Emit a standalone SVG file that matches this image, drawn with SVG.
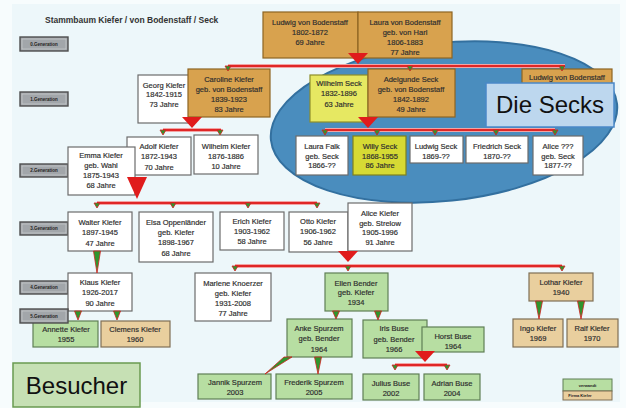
<svg xmlns="http://www.w3.org/2000/svg" xmlns:xlink="http://www.w3.org/1999/xlink" width="626" height="408" viewBox="0 0 626 408">
<style>
.t{font-family:"Liberation Sans",Arial,sans-serif;font-size:7.5px;fill:#2e2e2e;stroke:#2e2e2e;stroke-width:0.18;text-anchor:middle}
.g{font-family:"Liberation Sans",Arial,sans-serif;font-size:4.5px;font-weight:bold;fill:#222;text-anchor:middle}
.big{font-family:"Liberation Sans",Arial,sans-serif;font-size:24px;fill:#111;text-anchor:middle}
.title{font-family:"Liberation Sans",Arial,sans-serif;font-size:8.5px;font-weight:bold;fill:#333}
.w{fill:#fff;stroke:#6c6c6c;stroke-width:1.2}
.o{fill:#d8a24e;stroke:#8e6422;stroke-width:1.2}
.y{fill:#e6e862;stroke:#8e8e2a;stroke-width:1.2}
.yy{fill:#d6da34;stroke:#7e8020;stroke-width:1.2}
.gr{fill:#b7dea2;stroke:#5f7f55;stroke-width:1.2}
.tan{fill:#e9cf9e;stroke:#7f6f55;stroke-width:1.2}
.gen{fill:#a2a6aa;stroke:#4e4e4e;stroke-width:1.4}
.genin{fill:none;stroke:#d0d2d4;stroke-width:0.6}
.halo{stroke:#f2a4a4;stroke-width:4;fill:none}
.red{stroke:#e02626;stroke-width:2;fill:none}
.rt{fill:#e01c1c}
.gm{fill:#2e962e;stroke:#d42020;stroke-width:0.8}
</style>
<defs>
<path id="gm" class="gm" d="M-3,0 L3,0 L0,5 Z"/>
<path id="rt" class="rt" d="M-10,0 L10,0 L0,11 Z"/>
</defs>
<rect width="626" height="408" fill="#f7fcfd"/>
<rect x="12" y="4" width="608" height="398" fill="#edf7fa"/>
<text class="title" x="45" y="23">Stammbaum Kiefer / von Bodenstaff / Seck</text>
<g id="generations">
<rect class="gen" x="20" y="37" width="48" height="14"/><rect class="genin" x="22" y="39" width="44" height="10"/><text class="g" x="44" y="45.6">0.Generation</text>
<rect class="gen" x="20" y="92" width="48" height="14"/><rect class="genin" x="22" y="94" width="44" height="10"/><text class="g" x="44" y="100.6">1.Generation</text>
<rect class="gen" x="20" y="164" width="48" height="13"/><rect class="genin" x="22" y="166" width="44" height="9"/><text class="g" x="44" y="172.1">2.Generation</text>
<rect class="gen" x="20" y="222" width="48" height="13"/><rect class="genin" x="22" y="224" width="44" height="9"/><text class="g" x="44" y="230.1">3.Generation</text>
<rect class="gen" x="20" y="281" width="48" height="13"/><rect class="genin" x="22" y="283" width="44" height="9"/><text class="g" x="44" y="289.1">4.Generation</text>
</g>
<ellipse id="secks-area" cx="444" cy="122" rx="174" ry="79" transform="rotate(-6 444 122)" fill="#4a8dbe" stroke="#33709f" stroke-width="2"/>
<g id="n-ludwig0"><rect class="o" x="263" y="12" width="95" height="46"/><text class="t" x="310" y="24.5">Ludwig von Bodenstaff<tspan x="310" dy="10">1802-1872</tspan><tspan x="310" dy="10">69 Jahre</tspan></text></g>
<g id="n-laura0"><rect class="o" x="358" y="12" width="94" height="46"/><text class="t" x="405" y="24.5">Laura von Bodenstaff<tspan x="405" dy="10">geb. von Harl</tspan><tspan x="405" dy="10">1806-1883</tspan><tspan x="405" dy="10">77 Jahre</tspan></text></g>
<g id="n-georg"><rect class="w" x="138" y="75" width="55" height="48"/><text class="t" x="164" y="87.5">Georg Kiefer<tspan x="164" dy="9.8">1842-1915</tspan><tspan x="164" dy="9.8">73 Jahre</tspan></text></g>
<g id="n-caroline"><rect class="o" x="188" y="69" width="82" height="48"/><text class="t" x="229" y="81.5">Caroline Kiefer<tspan x="229" dy="10">geb. von Bodenstaff</tspan><tspan x="229" dy="10">1839-1923</tspan><tspan x="229" dy="10">83 Jahre</tspan></text></g>
<g id="n-wilhelm-seck"><rect class="y" x="310" y="75" width="58" height="47"/><text class="t" x="339" y="85.5">Wilhelm Seck<tspan x="339" dy="10.5">1832-1896</tspan><tspan x="339" dy="10.5">63 Jahre</tspan></text></g>
<g id="n-adelgunde"><rect class="o" x="368" y="69" width="87" height="48"/><text class="t" x="411" y="81.5">Adelgunde Seck<tspan x="411" dy="10">geb. von Bodenstaff</tspan><tspan x="411" dy="10">1842-1892</tspan><tspan x="411" dy="10">49 Jahre</tspan></text></g>
<g id="n-ludwig-r"><rect class="o" x="522" y="69" width="90" height="15"/><text class="t" x="567" y="80">Ludwig von Bodenstaff</text></g>
<g id="n-die-secks"><rect x="486" y="83" width="128" height="44" fill="#bdd7ee" stroke="#4a88c8" stroke-width="1.5"/><text class="big" x="550" y="113">Die Secks</text></g>
<g id="n-laura-falk"><rect class="w" x="296" y="136" width="52" height="39"/><text class="t" x="322" y="149.4">Laura Falk<tspan x="322" dy="9.3">geb. Seck</tspan><tspan x="322" dy="9.3">1866-??</tspan></text></g>
<g id="n-willy"><rect class="yy" x="353" y="136" width="53" height="39"/><text class="t" x="380" y="149.4">Willy Seck<tspan x="380" dy="9.3">1868-1955</tspan><tspan x="380" dy="9.3">86 Jahre</tspan></text></g>
<g id="n-ludwig-seck"><rect class="w" x="410" y="136" width="53" height="27"/><text class="t" x="436" y="149">Ludwig Seck<tspan x="436" dy="9.5">1869-??</tspan></text></g>
<g id="n-friedrich"><rect class="w" x="466" y="136" width="62" height="27"/><text class="t" x="497" y="149">Friedrich Seck<tspan x="497" dy="9.5">1870-??</tspan></text></g>
<g id="n-alice-seck"><rect class="w" x="533" y="136" width="50" height="39"/><text class="t" x="558" y="149.4">Alice ???<tspan x="558" dy="9.3">geb. Seck</tspan><tspan x="558" dy="9.3">1877-??</tspan></text></g>
<g id="n-adolf"><rect class="w" x="127" y="137" width="64" height="38"/><text class="t" x="159" y="148.7">Adolf Kiefer<tspan x="159" dy="10.5">1872-1943</tspan><tspan x="159" dy="10.5">70 Jahre</tspan></text></g>
<g id="n-emma"><rect class="w" x="68" y="147" width="67" height="48"/><text class="t" x="101" y="157.7">Emma Kiefer<tspan x="101" dy="10.2">geb. Wahl</tspan><tspan x="101" dy="10.2">1875-1943</tspan><tspan x="101" dy="10.2">68 Jahre</tspan></text></g>
<g id="n-wilhelm-kiefer"><rect class="w" x="194" y="135" width="64" height="39"/><text class="t" x="226" y="148.7">Wilhelm Kiefer<tspan x="226" dy="10">1876-1886</tspan><tspan x="226" dy="10">10 Jahre</tspan></text></g>
<g id="n-walter"><rect class="w" x="68" y="212" width="64" height="39"/><text class="t" x="100" y="224.7">Walter Kiefer<tspan x="100" dy="10.5">1897-1945</tspan><tspan x="100" dy="10.5">47 Jahre</tspan></text></g>
<g id="n-elsa"><rect class="w" x="139" y="212" width="74" height="50"/><text class="t" x="176" y="224.7">Elsa Oppenländer<tspan x="176" dy="10.3">geb. Kiefer</tspan><tspan x="176" dy="10.3">1898-1967</tspan><tspan x="176" dy="10.3">68 Jahre</tspan></text></g>
<g id="n-erich"><rect class="w" x="220" y="212" width="64" height="38"/><text class="t" x="252" y="223.7">Erich Kiefer<tspan x="252" dy="10">1903-1962</tspan><tspan x="252" dy="10">58 Jahre</tspan></text></g>
<g id="n-otto"><rect class="w" x="289" y="212" width="59" height="40"/><text class="t" x="318" y="223.7">Otto Kiefer<tspan x="318" dy="10.5">1906-1962</tspan><tspan x="318" dy="10.5">56 Jahre</tspan></text></g>
<g id="n-alice-kiefer"><rect class="w" x="348" y="203" width="64" height="48"/><text class="t" x="380" y="215.7">Alice Kiefer<tspan x="380" dy="9.8">geb. Strelow</tspan><tspan x="380" dy="9.8">1905-1996</tspan><tspan x="380" dy="9.8">91 Jahre</tspan></text></g>
<g id="n-klaus"><rect class="w" x="68" y="273" width="64" height="38"/><text class="t" x="100" y="284.7">Klaus Kiefer<tspan x="100" dy="10.5">1926-2017</tspan><tspan x="100" dy="10.5">90 Jahre</tspan></text></g>
<g id="n-marlene"><rect class="w" x="195" y="273" width="76" height="48"/><text class="t" x="233" y="285.7">Marlene Knoerzer<tspan x="233" dy="10">geb. Kiefer</tspan><tspan x="233" dy="10">1931-2008</tspan><tspan x="233" dy="10">77 Jahre</tspan></text></g>
<g id="n-ellen"><rect class="gr" x="325" y="273" width="63" height="38"/><text class="t" x="356" y="285.7">Ellen Bender<tspan x="356" dy="9.6">geb. Kiefer</tspan><tspan x="356" dy="9.6">1934</tspan></text></g>
<g id="n-lothar"><rect class="tan" x="529" y="273" width="64" height="28"/><text class="t" x="561" y="284.7">Lothar Kiefer<tspan x="561" dy="10">1940</tspan></text></g>
<g id="n-annette"><rect class="gr" x="33" y="321" width="65" height="26"/><text class="t" x="66" y="331.7">Annette Kiefer<tspan x="66" dy="10.5">1955</tspan></text></g>
<g id="generation5"><rect class="gen" x="20" y="309" width="48" height="14"/><rect class="genin" x="22" y="311" width="44" height="10"/><text class="g" x="44" y="317.6">5.Generation</text></g>
<g id="n-clemens"><rect class="tan" x="101" y="321" width="69" height="26"/><text class="t" x="135" y="331.7">Clemens Kiefer<tspan x="135" dy="10.5">1960</tspan></text></g>
<g id="n-anke"><rect class="gr" x="287" y="319" width="65" height="38"/><text class="t" x="319" y="330.7">Anke Spurzem<tspan x="319" dy="10.5">geb. Bender</tspan><tspan x="319" dy="10.5">1964</tspan></text></g>
<g id="n-iris"><rect class="gr" x="363" y="320" width="64" height="38"/><text class="t" x="394" y="330.7">Iris Buse<tspan x="394" dy="11">geb. Bender</tspan><tspan x="394" dy="10.5">1966</tspan></text></g>
<g id="n-horst"><rect class="gr" x="422" y="327" width="62" height="25"/><text class="t" x="453" y="338.7">Horst Buse<tspan x="453" dy="10">1964</tspan></text></g>
<g id="n-ingo"><rect class="tan" x="513" y="319" width="50" height="28"/><text class="t" x="538" y="330.7">Ingo Kiefer<tspan x="538" dy="10">1969</tspan></text></g>
<g id="n-ralf"><rect class="tan" x="567" y="319" width="51" height="28"/><text class="t" x="592" y="330.7">Ralf Kiefer<tspan x="592" dy="10">1970</tspan></text></g>
<g id="n-jannik"><rect class="gr" x="198" y="374" width="73" height="25"/><text class="t" x="235" y="384.7">Jannik Spurzem<tspan x="235" dy="10.5">2003</tspan></text></g>
<g id="n-frederik"><rect class="gr" x="276" y="374" width="76" height="25"/><text class="t" x="314" y="384.7">Frederik Spurzem<tspan x="314" dy="10.5">2005</tspan></text></g>
<g id="n-julius"><rect class="gr" x="363" y="374" width="56" height="26"/><text class="t" x="391" y="385.7">Julius Buse<tspan x="391" dy="10">2002</tspan></text></g>
<g id="n-adrian"><rect class="gr" x="424" y="374" width="56" height="26"/><text class="t" x="452" y="385.7">Adrian Buse<tspan x="452" dy="10">2004</tspan></text></g>
<g id="n-besucher"><rect x="13" y="363" width="127" height="44" fill="#c6e0b4" stroke="#6a9a50" stroke-width="1.5"/><text class="big" x="76.5" y="393.5">Besucher</text></g>
<g id="legend"><rect x="563" y="379" width="49" height="12" fill="#b7dea2" stroke="#5f7f55" stroke-width="1"/><rect x="563" y="391" width="49" height="9" fill="#e9cf9e" stroke="#7f6f55" stroke-width="1"/><text class="g" x="587.5" y="386.5" style="font-size:4px">verwandt</text><text class="g" x="580" y="397.3" style="font-size:4px">Firma Kiefer</text></g>
<g id="connectors">
<path class="halo" d="M228,66 H565 M163,130 H221 M325,130 H555 M97,203 H317 M235,266 H562 M395,365 H447"/>
<path class="red" d="M228,66 H565 M163,130 H221 M325,130 H555 M97,203 H317 M235,266 H562 M395,365 H447"/>
<use href="#rt" x="358" y="53"/>
<use href="#rt" x="192" y="117"/>
<use href="#rt" x="368" y="117"/>
<path class="rt" d="M127,177 L147,177 L137,199 Z"/>
<use href="#rt" x="348" y="251"/>
<use href="#rt" x="425" y="351"/>
<use href="#gm" x="228" y="66"/>
<use href="#gm" x="410" y="66"/>
<use href="#gm" x="562" y="66"/>
<use href="#gm" x="163" y="130"/>
<use href="#gm" x="220" y="130"/>
<use href="#gm" x="325" y="130"/>
<use href="#gm" x="377" y="130"/>
<use href="#gm" x="435" y="130"/>
<use href="#gm" x="496" y="130"/>
<use href="#gm" x="555" y="130"/>
<use href="#gm" x="97" y="203"/>
<use href="#gm" x="173" y="203"/>
<use href="#gm" x="248" y="203"/>
<use href="#gm" x="317" y="203"/>
<use href="#gm" x="235" y="266"/>
<use href="#gm" x="348" y="266"/>
<use href="#gm" x="562" y="266"/>
<use href="#gm" x="395" y="365"/>
<use href="#gm" x="447" y="365"/>
<path class="gm" d="M93.5,251 L100.5,251 L97,273 Z"/>
<path class="gm" d="M74.5,311 L81.5,311 L78,320 Z"/>
<path class="gm" d="M113.5,311 L120.5,311 L117,320 Z"/>
<path class="gm" d="M332.5,311 L339.5,311 L336,319 Z"/>
<path class="gm" d="M374.5,311 L381.5,311 L378,320 Z"/>
<path class="gm" d="M535.5,301 L542.5,301 L539,319 Z"/>
<path class="gm" d="M577.5,301 L584.5,301 L581,319 Z"/>
<path class="gm" d="M314.5,357 L321.5,357 L318,374 Z"/>
<path class="gm" d="M284,357 L292,357 L265,374 Z"/>
</g>
</svg>
